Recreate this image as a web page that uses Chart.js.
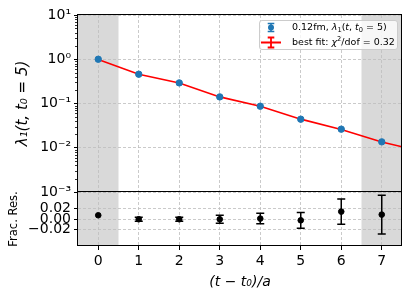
<!DOCTYPE html>
<html>
<head>
<meta charset="utf-8">
<script src="https://cdn.jsdelivr.net/npm/chart.js@4.4.0/dist/chart.umd.min.js"></script>
<style>
html, body { margin: 0; padding: 0; background: #fff; }
#wrap { position: relative; width: 415px; height: 297px; }
canvas { position: absolute; left: 0; top: 0; }
</style>
</head>
<body>
<div id="wrap">
  <canvas id="main" width="415" height="297"></canvas>
  <canvas id="res" width="415" height="297"></canvas>
</div>
<script>
// data
const steps = [0, 1, 2, 3, 4, 5, 6, 7];
const lambda1 = [1.0, 0.459, 0.292, 0.141, 0.0869, 0.0442, 0.0263, 0.0136];
const fitT = [0, 1, 2, 3, 4, 5, 6, 7, 7.5];
const fitVals = [0.992, 0.459, 0.292, 0.141, 0.0868, 0.0443, 0.0259, 0.0135, 0.0105];
const fracRes = [0.0076, 0.0, 0.0, 0.0, 0.0013, -0.002, 0.0146, 0.0089];
const fracErr = [0, 0.004, 0.004, 0.0076, 0.01, 0.015, 0.024, 0.037];
const logTicks = [1e-3, 1e-2, 1e-1, 1, 10];
const logLabels = ['10⁻³', '10⁻²', '10⁻¹', '10⁰', '10¹'];
const resTicks = [-0.02, 0, 0.02];
const resLabels = ['−0.02', '0.00', '0.02'];
const excluded = [[-0.5, 0.5], [6.5, 7.5]];

const FONT = 'DejaVu Sans';
const gridCol = '#bdbdbd';

const shade = {
    id: 'shade',
    beforeDraw(chart) {
        const { ctx, chartArea: a, scales: { x } } = chart;
        ctx.save();
        ctx.fillStyle = 'rgba(128,128,128,0.3)';
        excluded.forEach(([lo, hi]) => {
            const x0 = x.getPixelForValue(lo), x1 = x.getPixelForValue(hi);
            ctx.fillRect(x0, a.top, x1 - x0, a.bottom - a.top);
        });
        ctx.restore();
    },
};

const frame = {
    id: 'frame',
    afterDraw(chart) {
        const { ctx, chartArea: a } = chart;
        ctx.save();
        ctx.strokeStyle = '#000';
        ctx.lineWidth = 1;
        ctx.strokeRect(a.left - 0.5, a.top - 0.5, a.right - a.left, a.bottom - a.top);
        ctx.restore();
    },
};

const minorTicks = {
    id: 'minorTicks',
    afterDraw(chart) {
        const { ctx, chartArea: a, scales: { y } } = chart;
        ctx.save();
        ctx.strokeStyle = '#000';
        ctx.lineWidth = 0.8;
        logTicks.slice(0, -1).forEach(d => {
            for (let m = 2; m <= 9; m++) {
                const py = Math.round(y.getPixelForValue(m * d)) + 0.5;
                ctx.beginPath();
                ctx.moveTo(a.left - 3, py);
                ctx.lineTo(a.left, py);
                ctx.stroke();
            }
        });
        ctx.restore();
    },
};

// rich text: segments with italic / sub / sup
function drawRich(ctx, x, y, segs, size) {
    segs.forEach(s => {
        const sz = (s.sub || s.sup) ? size * 0.7 : size;
        ctx.font = (s.i ? 'italic ' : '') + sz + 'px "' + FONT + '"';
        const dy = s.sub ? size * 0.25 : s.sup ? -size * 0.35 : 0;
        ctx.fillText(s.t, x, y + dy);
        x += ctx.measureText(s.t).width;
    });
}

const legendBox = {
    id: 'legendBox',
    afterDraw(chart) {
        const { ctx, chartArea: a } = chart;
        const right = a.right - 5, left = right - 138, top = a.top + 5, h = 29;
        ctx.save();
        ctx.fillStyle = 'rgba(255,255,255,0.8)';
        ctx.strokeStyle = '#cccccc';
        ctx.lineWidth = 1;
        ctx.beginPath();
        ctx.roundRect(left + 0.5, top + 0.5, right - left, h, 2.5);
        ctx.fill();
        ctx.stroke();

        const mx = left + 12, r1 = top + 7.5, r2 = top + 22.5;
        // blue errorbar marker
        ctx.strokeStyle = '#1f77b4';
        ctx.fillStyle = '#1f77b4';
        ctx.lineWidth = 1.5;
        ctx.beginPath();
        ctx.moveTo(mx, r1 - 4); ctx.lineTo(mx, r1 + 4);
        ctx.moveTo(mx - 3.3, r1 - 4); ctx.lineTo(mx + 3.3, r1 - 4);
        ctx.moveTo(mx - 3.3, r1 + 4); ctx.lineTo(mx + 3.3, r1 + 4);
        ctx.stroke();
        ctx.beginPath(); ctx.arc(mx, r1, 3, 0, Math.PI * 2); ctx.fill();
        // red fit marker
        ctx.strokeStyle = '#ff0000';
        ctx.lineWidth = 1.8;
        ctx.beginPath();
        ctx.moveTo(mx - 10, r2); ctx.lineTo(mx + 10, r2);
        ctx.moveTo(mx, r2 - 5); ctx.lineTo(mx, r2 + 5);
        ctx.moveTo(mx - 3.3, r2 - 5); ctx.lineTo(mx + 3.3, r2 - 5);
        ctx.moveTo(mx - 3.3, r2 + 5); ctx.lineTo(mx + 3.3, r2 + 5);
        ctx.stroke();

        ctx.fillStyle = '#000';
        ctx.textBaseline = 'middle';
        ctx.textAlign = 'left';
        const tx = left + 33;
        drawRich(ctx, tx, r1, [
            { t: '0.12fm, ' }, { t: 'λ', i: true }, { t: '1', sub: true }, { t: '(' },
            { t: 't', i: true }, { t: ', ' }, { t: 't', i: true }, { t: '0', sub: true }, { t: ' = 5)' },
        ], 9.5);
        drawRich(ctx, tx, r2, [
            { t: 'best fit: ' }, { t: 'χ', i: true }, { t: '2', sup: true }, { t: '/dof = 0.32' },
        ], 9.5);
        ctx.restore();
    },
};

const errBars = {
    id: 'errBars',
    beforeDatasetsDraw(chart) {
        const { ctx, scales: { x, y } } = chart;
        ctx.save();
        ctx.strokeStyle = '#000';
        ctx.lineWidth = 1.5;
        steps.forEach((t, i) => {
            if (!fracErr[i]) return;
            const px = x.getPixelForValue(t);
            const lo = y.getPixelForValue(fracRes[i] - fracErr[i]);
            const hi = y.getPixelForValue(fracRes[i] + fracErr[i]);
            ctx.beginPath();
            ctx.moveTo(px, lo); ctx.lineTo(px, hi);
            ctx.moveTo(px - 4, lo); ctx.lineTo(px + 4, lo);
            ctx.moveTo(px - 4, hi); ctx.lineTo(px + 4, hi);
            ctx.stroke();
        });
        ctx.restore();
    },
};

const xScale = (extra) => Object.assign({
    type: 'linear',
    min: -0.5,
    max: 7.5,
    afterBuildTicks: s => { s.ticks = steps.map(v => ({ value: v })); },
    grid: { color: gridCol, lineWidth: 0.8, tickColor: '#000', tickLength: 4, tickWidth: 1 },
    border: { display: false, dash: [3, 2] },
}, extra);

new Chart(document.getElementById('main'), {
    type: 'scatter',
    data: {
        datasets: [
            {
                type: 'line',
                label: 'best fit',
                data: fitT.map((t, i) => ({ x: t, y: fitVals[i] })),
                borderColor: '#ff0000',
                borderWidth: 1.6,
                pointRadius: 0,
                fill: false,
                tension: 0,
                order: 1,
            },
            {
                label: '0.12fm',
                data: steps.map((t, i) => ({ x: t, y: lambda1[i] })),
                backgroundColor: '#1f77b4',
                borderColor: '#1f77b4',
                pointRadius: 3.2,
                order: 0,
            },
        ],
    },
    options: {
        responsive: false,
        animation: false,
        devicePixelRatio: 1,
        layout: { padding: { left: 0, top: 15, right: 13, bottom: 105 } },
        plugins: { legend: { display: false }, tooltip: { enabled: false } },
        scales: {
            x: xScale({
                afterFit: s => { s.height = 0; },
                ticks: { display: false },
                grid: { color: gridCol, lineWidth: 0.8, drawTicks: false },
            }),
            y: {
                type: 'logarithmic',
                min: 1e-3,
                max: 10,
                afterBuildTicks: s => { s.ticks = logTicks.map(v => ({ value: v })); },
                afterFit: s => { s.width = 78; },
                ticks: {
                    autoSkip: false,
                    padding: 3,
                    color: '#000',
                    font: { family: FONT, size: 14 },
                    callback: v => logLabels[logTicks.findIndex(t => Math.abs(Math.log10(t) - Math.log10(v)) < 1e-6)],
                },
                grid: { color: gridCol, lineWidth: 0.8, tickColor: '#000', tickLength: 4, tickWidth: 1 },
                border: { display: false, dash: [3, 2] },
                title: {
                    display: true,
                    text: 'λ₁(t, t₀ = 5)',
                    color: '#000',
                    font: { family: FONT, size: 15, style: 'italic' },
                    padding: { top: 14, bottom: 0 },
                },
            },
        },
    },
    plugins: [shade, minorTicks, frame, legendBox],
});

new Chart(document.getElementById('res'), {
    type: 'scatter',
    data: {
        datasets: [{
            label: 'frac. res.',
            data: steps.map((t, i) => ({ x: t, y: fracRes[i] })),
            backgroundColor: '#000',
            borderColor: '#000',
            pointRadius: 2.8,
        }],
    },
    options: {
        responsive: false,
        animation: false,
        devicePixelRatio: 1,
        layout: { padding: { left: 0, top: 192, right: 13, bottom: 0 } },
        plugins: { legend: { display: false }, tooltip: { enabled: false } },
        scales: {
            x: xScale({
                afterFit: s => { s.height = 51; },
                ticks: { padding: 3, color: '#000', font: { family: FONT, size: 14 } },
                title: {
                    display: true,
                    text: '(t − t₀)/a',
                    color: '#000',
                    font: { family: FONT, size: 14, style: 'italic' },
                    padding: { top: 0, bottom: 6 },
                },
            }),
            y: {
                type: 'linear',
                min: -0.051,
                max: 0.052,
                afterBuildTicks: s => { s.ticks = resTicks.map(v => ({ value: v })); },
                afterFit: s => { s.width = 78; },
                ticks: {
                    autoSkip: false,
                    padding: 3,
                    color: '#000',
                    font: { family: FONT, size: 14 },
                    callback: (v) => resLabels[resTicks.findIndex(t => Math.abs(t - v) < 1e-9)],
                },
                grid: { color: gridCol, lineWidth: 0.8, tickColor: '#000', tickLength: 4, tickWidth: 1 },
                border: { display: false, dash: [3, 2] },
                title: {
                    display: true,
                    text: 'Frac. Res.',
                    color: '#000',
                    font: { family: FONT, size: 11.5 },
                    padding: { top: 7, bottom: 0 },
                },
            },
        },
    },
    plugins: [shade, frame, errBars],
});
</script>
</body>
</html>
